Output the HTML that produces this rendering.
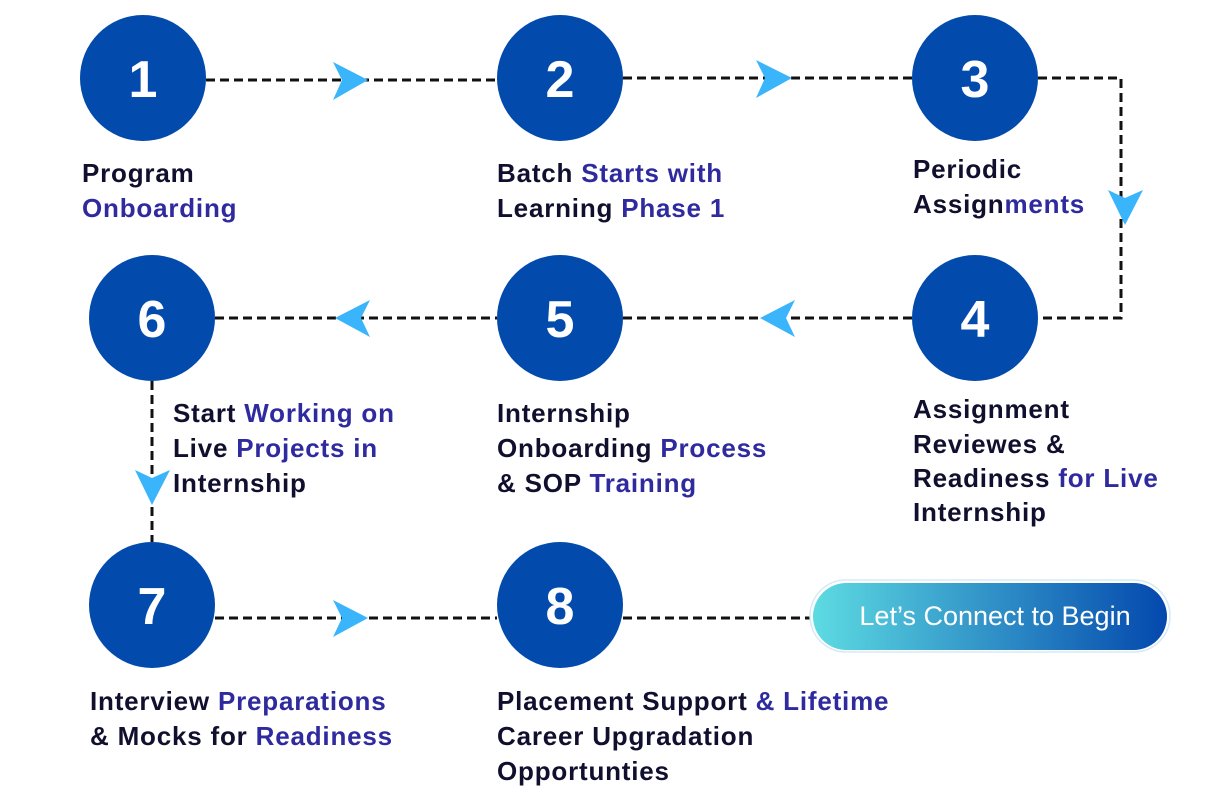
<!DOCTYPE html>
<html><head><meta charset="utf-8"><style>
html,body{margin:0;padding:0;background:#fff;}
svg text{font-family:"Liberation Sans",sans-serif;}
.t{font-size:26px;font-weight:bold;fill:#10102e;letter-spacing:0.8px;}
.p{fill:#2f2a9e;}
.n{font-size:52px;font-weight:bold;fill:#fff;text-anchor:middle;}
</style></head><body>
<svg width="1219" height="801" viewBox="0 0 1219 801" xmlns="http://www.w3.org/2000/svg">
<defs>
<linearGradient id="g" x1="0" x2="1" y1="0" y2="0">
<stop offset="0" stop-color="#5ddbe2"/><stop offset="1" stop-color="#0448ad"/>
</linearGradient>
</defs>
<g stroke="#111" stroke-width="3" stroke-dasharray="9 5" fill="none">
<line x1="206" y1="80" x2="497" y2="80"/>
<line x1="623" y1="78" x2="912" y2="78"/>
<polyline points="1038,78 1121,78 1121,318 1038,318"/>
<line x1="623" y1="318" x2="912" y2="318"/>
<line x1="215" y1="318" x2="497" y2="318"/>
<line x1="152" y1="381" x2="152" y2="542"/>
<line x1="215" y1="618" x2="497" y2="618"/>
<line x1="623" y1="618" x2="812" y2="618"/>
</g>
<g fill="#3ab4fb">
<polygon points="333,62 368,80 333,100 342,80"/>
<polygon points="756,60 792,78 756,98 765,78"/>
<polygon points="1108,190 1125,225 1143,190 1125,198"/>
<polygon points="795,300 760,318 795,337 786,318"/>
<polygon points="370,300 335,318 370,337 361,318"/>
<polygon points="135,470 152,505 170,470 152,478"/>
<polygon points="333,600 368,618 333,637 342,618"/>
</g>
<g fill="#034aad">
<circle cx="143" cy="78" r="63"/>
<circle cx="560" cy="78" r="63"/>
<circle cx="975" cy="78" r="63"/>
<circle cx="975" cy="318" r="63"/>
<circle cx="560" cy="318" r="63"/>
<circle cx="152" cy="318" r="63"/>
<circle cx="152" cy="605" r="63"/>
<circle cx="560" cy="605" r="63"/>
</g>
<text class="n" x="143" y="97">1</text>
<text class="n" x="560" y="97">2</text>
<text class="n" x="975" y="97">3</text>
<text class="n" x="975" y="337">4</text>
<text class="n" x="560" y="337">5</text>
<text class="n" x="152" y="337">6</text>
<text class="n" x="152" y="624">7</text>
<text class="n" x="560" y="624">8</text>

<text class="t" x="82" y="182">Program</text>
<text class="t p" x="82" y="217">Onboarding</text>
<text class="t" x="497" y="182">Batch <tspan class="p">Starts with</tspan></text>
<text class="t" x="497" y="217">Learning <tspan class="p">Phase 1</tspan></text>
<text class="t" x="913" y="178">Periodic</text>
<text class="t" x="913" y="213">Assign<tspan class="p">ments</tspan></text>
<text class="t" x="913" y="418">Assignment</text>
<text class="t" x="913" y="453">Reviewes &amp;</text>
<text class="t" x="913" y="487">Readiness <tspan class="p">for Live</tspan></text>
<text class="t" x="913" y="521">Internship</text>
<text class="t" x="497" y="422">Internship</text>
<text class="t" x="497" y="457">Onboarding <tspan class="p">Process</tspan></text>
<text class="t" x="497" y="492">&amp; SOP <tspan class="p">Training</tspan></text>
<text class="t" x="173" y="422">Start <tspan class="p">Working on</tspan></text>
<text class="t" x="173" y="457">Live <tspan class="p">Projects in</tspan></text>
<text class="t" x="173" y="492">Internship</text>
<text class="t" x="90" y="710">Interview <tspan class="p">Preparations</tspan></text>
<text class="t" x="90" y="745">&amp; Mocks for <tspan class="p">Readiness</tspan></text>
<text class="t" x="497" y="710">Placement Support <tspan class="p">&amp; Lifetime</tspan></text>
<text class="t" x="497" y="745">Career Upgradation</text>
<text class="t" x="497" y="780">Opportunties</text>

<rect x="810" y="580" width="360" height="72" rx="36" fill="#fff" stroke="#d6eaf5" stroke-width="1.5"/>
<rect x="813" y="583" width="354" height="67" rx="33.5" fill="url(#g)"/>
<text x="995" y="625" font-size="27" fill="#fff" text-anchor="middle">Let’s Connect to Begin</text>
</svg>
</body></html>
